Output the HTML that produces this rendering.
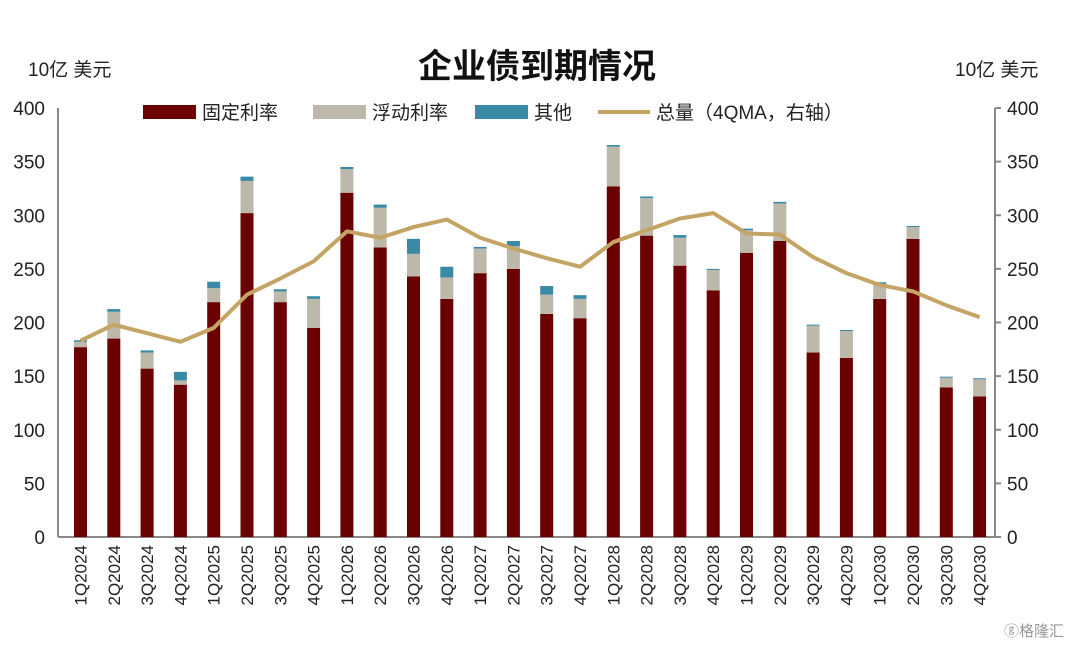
<!DOCTYPE html>
<html><head><meta charset="utf-8"><style>
body{margin:0;background:#fff;width:1080px;height:646px;overflow:hidden;font-family:"Liberation Sans","Noto Sans CJK SC",sans-serif}
svg text{font-family:"Liberation Sans","Noto Sans CJK SC",sans-serif}
</style></head><body>
<svg id="c" width="1080" height="646">
<text x="537" y="78" text-anchor="middle" font-size="34" font-weight="bold" fill="#111">企业债到期情况</text>
<text x="28" y="76" font-size="19" fill="#222">10亿 美元</text>
<text x="955" y="76" font-size="19" fill="#222">10亿 美元</text>
<g id="legend">
<rect x="143" y="105" width="53" height="14" fill="#6b0000"/>
<text x="202" y="119" font-size="19" fill="#222">固定利率</text>
<rect x="313" y="105" width="53" height="14" fill="#bdb9aa"/>
<text x="372" y="119" font-size="19" fill="#222">浮动利率</text>
<rect x="475" y="105" width="53" height="14" fill="#3a8aa5"/>
<text x="534" y="119" font-size="19" fill="#222">其他</text>
<line x1="598" y1="112" x2="650" y2="112" stroke="#c4a464" stroke-width="4"/>
<text x="656" y="119" font-size="19" fill="#222">总量（4QMA，右轴）</text>
</g>
<g id="plot"></g>
<text x="1004" y="636" font-size="15" fill="#999">ⓖ格隆汇</text>
</svg>
<script>
const categories=["1Q2024","2Q2024","3Q2024","4Q2024","1Q2025","2Q2025","3Q2025","4Q2025","1Q2026","2Q2026","3Q2026","4Q2026","1Q2027","2Q2027","3Q2027","4Q2027","1Q2028","2Q2028","3Q2028","4Q2028","1Q2029","2Q2029","3Q2029","4Q2029","1Q2030","2Q2030","3Q2030","4Q2030"];
const fixedRate=[177,185,157,142,219,302,219,195,321,270,243,222,246,250,208,204,327,281,253,230,265,276,172,167,222,278,139.5,131];
const floatingRate=[5,25,15,4,13,30,10,27,22,37,21,20,23,21,18,18,37,35,26,19,21,35,25,25,14,11,9,16];
const other=[1.5,2.5,2,8,6,4,2,2.5,2,3,14,10,1.5,5,8,3.5,1.5,1.5,2.5,1,1.5,1.5,1,1,1.5,1,1,1];
const total4QMA=[183,198,190,182,195,226,241,257,285,279,289,296,279,269,260,252,275,286,297,302,283,282,261,246,235,229,216,205];
const yTicks=[0,50,100,150,200,250,300,350,400];

const NS="http://www.w3.org/2000/svg";
const g=document.getElementById('plot');
const X0=80.5,DX=33.3,Y0=537,K=(537-108)/400,BW=13;
const xs=i=>X0+i*DX, ys=v=>Y0-v*K;
function mk(t,a){const e=document.createElementNS(NS,t);for(const k in a)e.setAttribute(k,a[k]);g.appendChild(e);return e;}
let e=mk('line',{x1:58,y1:108,x2:58,y2:Y0,stroke:'#888','stroke-width':2});


e=mk('line',{x1:995,y1:108,x2:995,y2:Y0,stroke:'#888','stroke-width':2});


e=mk('line',{x1:58,y1:Y0,x2:995,y2:Y0,stroke:'#888','stroke-width':2});


yTicks.forEach(t=>{
  const y=ys(t);
  let a=mk('text',{x:45,y:y+7,'text-anchor':'end','font-size':19,fill:'#222'});a.textContent=t;
  
  
  let b=mk('text',{x:1007,y:y+7,'font-size':19,fill:'#222'});b.textContent=t;
  
  
  let l=mk('line',{x1:995,y1:y,x2:1001,y2:y,stroke:'#888','stroke-width':2});
  
  
});
categories.forEach((c,i)=>{
  const x=xs(i);
  let y1=ys(fixedRate[i]),y2=ys(fixedRate[i]+floatingRate[i]),y3=ys(fixedRate[i]+floatingRate[i]+other[i]);
  let r=mk('rect',{x:x-BW/2,y:y1,width:BW,height:Y0-y1,fill:'#6b0000'});
  
  
  r=mk('rect',{x:x-BW/2,y:y2,width:BW,height:y1-y2,fill:'#bdb9aa'});
  
  
  r=mk('rect',{x:x-BW/2,y:y3,width:BW,height:y2-y3,fill:'#3a8aa5'});
  
  
  let t=mk('text',{x:0,y:0,'font-size':17,fill:'#222','text-anchor':'end',transform:`translate(${x+6},${Y0+8}) rotate(-90)`});
  t.textContent=c;
  
  
});
const p=mk('polyline',{points:total4QMA.map((v,i)=>xs(i)+','+ys(v)).join(' '),fill:'none',stroke:'#c4a464','stroke-width':4,'stroke-linejoin':'round'});


</script>
</body></html>
